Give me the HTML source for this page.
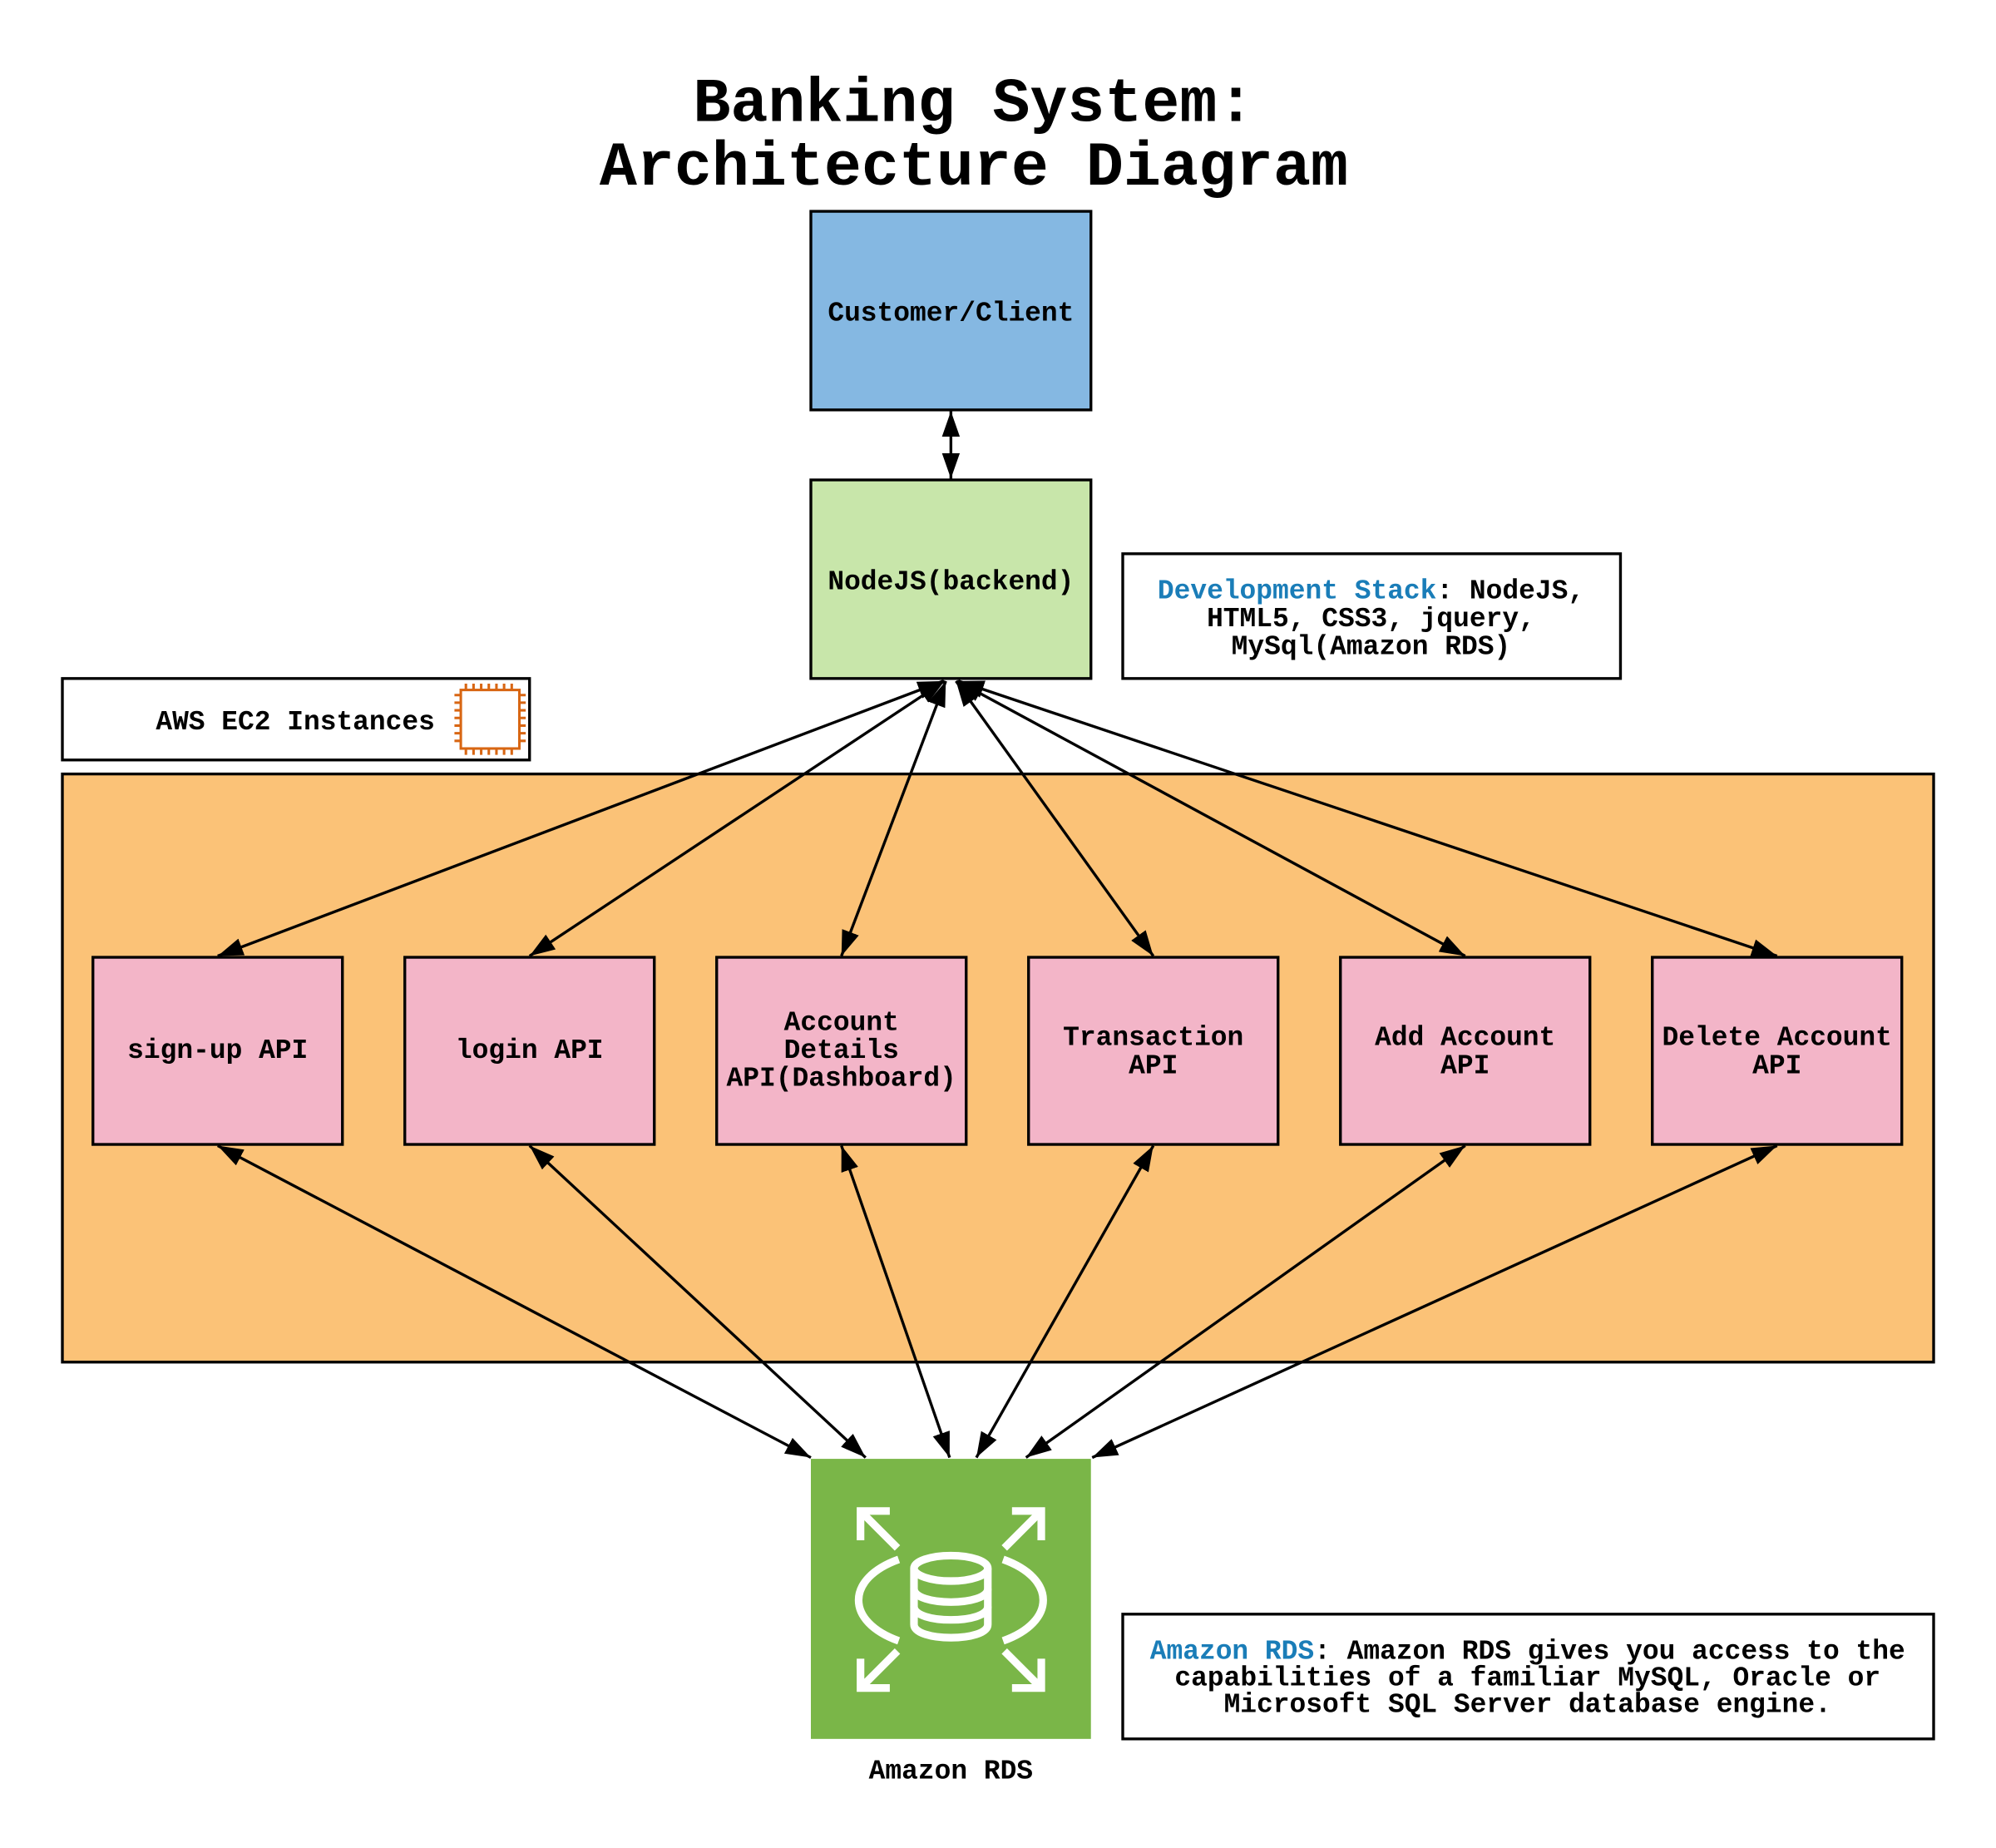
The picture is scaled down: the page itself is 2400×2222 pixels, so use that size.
<!DOCTYPE html>
<html><head><meta charset="utf-8"><style>
html,body{margin:0;padding:0;background:#fff}
svg{display:block}
text{font-family:"Liberation Mono",monospace;font-weight:bold;fill:#000}
</style></head><body>
<svg width="2400" height="2222" viewBox="0 0 1568 1451.7" preserveAspectRatio="none" xmlns="http://www.w3.org/2000/svg">
<defs>
<marker id="b" viewBox="0 0 20 14" refX="20" refY="7" markerWidth="20" markerHeight="14" markerUnits="userSpaceOnUse" orient="auto-start-reverse">
<path d="M0,0 L20,7 L0,14 Z" fill="#000"/>
</marker>
</defs>
<text x="765" y="95" font-size="49" text-anchor="middle">Banking System:</text>
<text x="765" y="145" font-size="49" text-anchor="middle">Architecture Diagram</text>

<rect x="637" y="166" width="220" height="156" fill="#85B8E2" stroke="#000" stroke-width="2.2"/>
<text x="747" y="252" font-size="21.5" text-anchor="middle">Customer/Client</text>
<rect x="637" y="377" width="220" height="156" fill="#C8E6AA" stroke="#000" stroke-width="2.2"/>
<text x="747" y="463" font-size="21.5" text-anchor="middle">NodeJS(backend)</text>
<line x1="747" y1="323" x2="747" y2="376" stroke="#000" stroke-width="2.2" marker-start="url(#b)" marker-end="url(#b)"/>

<rect x="882" y="435" width="391" height="98" fill="#fff" stroke="#000" stroke-width="2.2"/>
<text x="1077" y="470" font-size="21.5" text-anchor="middle"><tspan fill="#1A7DB8">Development Stack</tspan>: NodeJS,</text>
<text x="1077" y="492" font-size="21.5" text-anchor="middle">HTML5, CSS3, jquery,</text>
<text x="1077" y="514" font-size="21.5" text-anchor="middle">MySql(Amazon RDS)</text>

<rect x="49" y="533" width="367" height="64" fill="#fff" stroke="#000" stroke-width="2.2"/>
<text x="232" y="573" font-size="21.5" text-anchor="middle">AWS EC2 Instances</text>
<g stroke="#D86613" stroke-width="2" fill="none">
<rect x="362" y="542" width="46" height="46"/>
<path d="M366,542v-5M372,542v-5M378,542v-5M384,542v-5M390,542v-5M396,542v-5M402,542v-5M366,588v5M372,588v5M378,588v5M384,588v5M390,588v5M396,588v5M402,588v5M362,546h-5M362,552h-5M362,558h-5M362,564h-5M362,570h-5M362,576h-5M362,582h-5M408,546h5M408,552h5M408,558h5M408,564h5M408,570h5M408,576h5M408,582h5"/>
</g>

<rect x="49" y="608" width="1470" height="462" fill="#FBC277" stroke="#000" stroke-width="2.2"/>

<g fill="#F3B5C8" stroke="#000" stroke-width="2.2">
<rect x="73" y="752" width="196" height="147"/>
<rect x="318" y="752" width="196" height="147"/>
<rect x="563" y="752" width="196" height="147"/>
<rect x="808" y="752" width="196" height="147"/>
<rect x="1053" y="752" width="196" height="147"/>
<rect x="1298" y="752" width="196" height="147"/>
</g>
<g font-size="21.5" text-anchor="middle">
<text x="171" y="831">sign-up API</text>
<text x="416" y="831">login API</text>
<text x="661" y="809">Account</text>
<text x="661" y="831">Details</text>
<text x="661" y="853">API(Dashboard)</text>
<text x="906" y="821">Transaction</text>
<text x="906" y="843">API</text>
<text x="1151" y="821">Add Account</text>
<text x="1151" y="843">API</text>
<text x="1396" y="821">Delete Account</text>
<text x="1396" y="843">API</text>
</g>

<g stroke="#000" stroke-width="2.2" marker-start="url(#b)" marker-end="url(#b)">
<line x1="741" y1="535" x2="171" y2="751"/>
<line x1="742" y1="535" x2="416" y2="751"/>
<line x1="743" y1="535" x2="661" y2="751"/>
<line x1="751" y1="535" x2="906" y2="751"/>
<line x1="752" y1="535" x2="1151" y2="751"/>
<line x1="753" y1="535" x2="1396" y2="751"/>

<line x1="171" y1="900" x2="637" y2="1145"/>
<line x1="416" y1="900" x2="680" y2="1145"/>
<line x1="661" y1="900" x2="746" y2="1145"/>
<line x1="906" y1="900" x2="767" y2="1145"/>
<line x1="1151" y1="900" x2="806" y2="1145"/>
<line x1="1396" y1="900" x2="858" y2="1145"/>
</g>

<rect x="637" y="1146" width="220" height="220" fill="#7AB648"/>
<g stroke="#fff" stroke-width="6" fill="none">
<path d="M676,1210V1187H699M677,1188L705,1216"/>
<path d="M818,1210V1187H795M817,1188L789,1216"/>
<path d="M676,1303V1326H699M677,1325L705,1297"/>
<path d="M818,1303V1326H795M817,1325L789,1297"/>
<path d="M706,1225C664,1240 664,1274 706,1289"/>
<path d="M788,1225C830,1240 830,1274 788,1289"/>
<ellipse cx="747" cy="1232" rx="29" ry="10"/>
<path d="M718,1232V1276C718,1290 776,1290 776,1276V1232"/>
<path d="M718,1248C718,1262 776,1262 776,1248"/>
<path d="M718,1262C718,1276 776,1276 776,1262"/>
</g>
<text x="747" y="1397" font-size="21.5" text-anchor="middle">Amazon RDS</text>

<rect x="882" y="1268" width="637" height="98" fill="#fff" stroke="#000" stroke-width="2.2"/>
<text x="1200" y="1303" font-size="21.5" text-anchor="middle"><tspan fill="#1A7DB8">Amazon RDS</tspan>: Amazon RDS gives you access to the</text>
<text x="1200" y="1324" font-size="21.5" text-anchor="middle">capabilities of a familiar MySQL, Oracle or</text>
<text x="1200" y="1345" font-size="21.5" text-anchor="middle">Microsoft SQL Server database engine.</text>
</svg>
</body></html>
